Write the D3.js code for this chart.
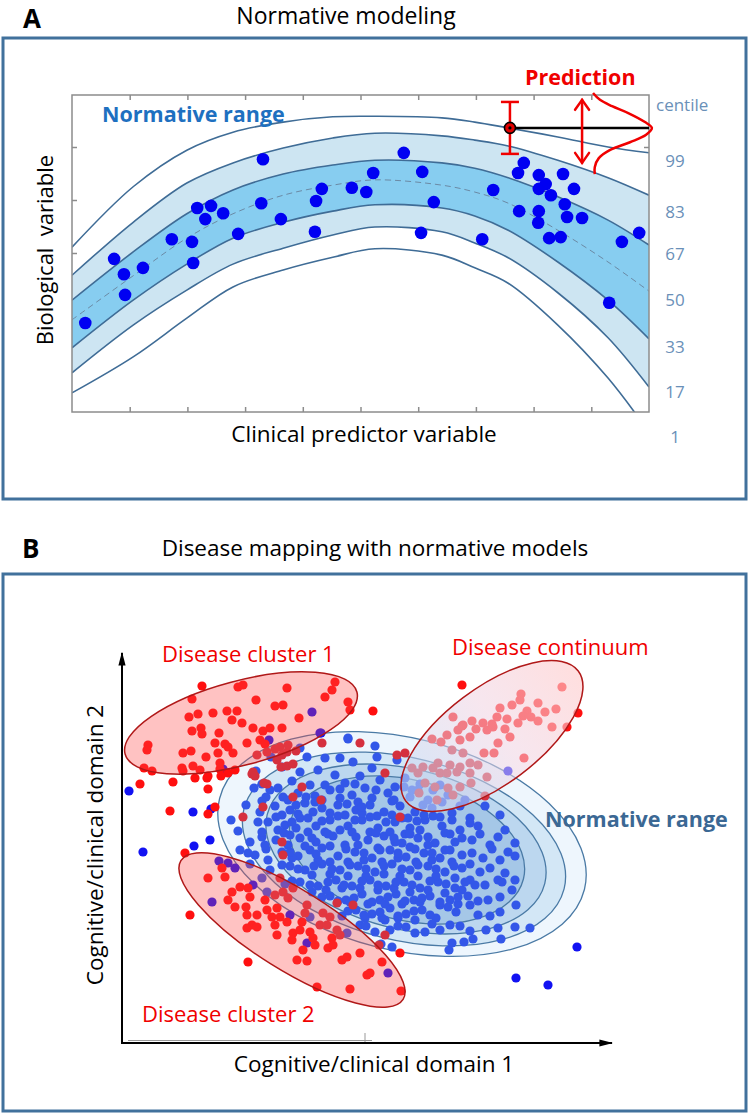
<!DOCTYPE html>
<html><head><meta charset="utf-8">
<script src="https://cdn.jsdelivr.net/npm/d3@7"></script>
<style>body{margin:0;background:#fff}svg{display:block}text{font-family:"Open Sans",Lato,sans-serif}</style>
</head><body><svg id="c" width="750" height="1115"></svg>
<script>
// ================= Panel A data =================
const curveX = [0,1.06,1.99,2.79,3.66,4.52,5.25,6.41,6.98,7.56,8.42,9.29,10];
const lineTop    = [3.11,4.25,4.94,5.28,5.47,5.57,5.58,5.55,5.47,5.36,5.19,5.00,4.89];
const lineUpper2 = [2.58,3.58,4.32,4.70,4.98,5.17,5.26,5.21,5.13,5.02,4.75,4.42,4.09];
const lineUpper1 = [2.11,3.02,3.74,4.19,4.49,4.66,4.75,4.70,4.60,4.42,4.06,3.62,3.15];
const lineMedian = [1.74,2.57,3.28,3.74,4.09,4.28,4.38,4.28,4.15,3.94,3.43,2.83,2.28];
const lineLower1 = [1.21,2.11,2.79,3.28,3.58,3.79,3.91,3.85,3.70,3.43,2.83,2.11,1.38];
const lineLower2 = [0.74,1.64,2.30,2.79,3.09,3.34,3.49,3.40,3.19,2.91,2.25,1.40,0.47];
const lineBottom = [0.36,1.04,1.77,2.36,2.68,2.92,3.08,2.96,2.72,2.43,1.64,0.64,-0.38];
const subjectsX = [3.31,5.22,4.33,4.23,4.85,5.10,2.17,2.41,2.62,2.31,3.28,3.62,2.88,4.21,1.73,2.08,0.73,0.90,1.23,0.92,2.10,0.23,
  5.75,6.07,7.83,7.73,8.09,8.51,8.21,8.09,8.30,8.70,7.30,6.27,7.75,8.09,8.54,8.58,8.84,8.08,6.05,7.11,8.27,8.47,9.53,9.83,9.31];
const subjectsY = [4.77,4.51,4.21,3.98,4.23,4.15,3.85,3.89,3.75,3.64,3.94,3.64,3.36,3.40,3.26,3.21,2.89,2.60,2.72,2.21,2.81,1.68,
  4.89,4.53,4.70,4.51,4.47,4.49,4.30,4.21,4.09,4.21,4.19,3.96,3.79,3.79,3.92,3.68,3.66,3.57,3.38,3.26,3.28,3.30,3.21,3.38,2.06];
const xTicksA = [1,2,3,4,5,6,7,8,9];
const yTicksA = [1,2,3,4,5];
const predX = 7.59, predY = 5.36, predLow = 4.87, predHigh = 5.85;
const arrowX = 8.84, arrowLow = 4.70, arrowHigh = 5.89;
const gaussX = [9.03,9.15,9.36,9.64,9.93,10.05,9.95,9.67,9.32,9.13,9.06,9.06];
const gaussY = [6.02,5.89,5.77,5.64,5.47,5.36,5.23,5.09,4.94,4.79,4.62,4.49];
const centileLabels = ["99","83","67","50","33","17","1"];
const centileLabelY = [4.74,3.77,2.98,2.11,1.23,0.38,-0.47];

// ================= Panel B data =================
const redCluster1 = [[80,357],[70,344],[116,356],[121,358],[165,355],[134,343],[153,337],[161,338],[213,361],[210,353],[203,346],[226,341],[228,333],[251,332],[177,325],[67,326],[76,329],[91,330],[105,332],[115,332],[110,323],[120,320],[70,312],[79,315],[80,309],[97,310],[131,315],[141,312],[148,315],[160,315],[200,300],[238,300],[26,298],[25,293],[61,290],[69,292],[84,286],[96,290],[103,299],[111,290],[125,300],[138,303],[143,299],[158,296],[174,292],[106,296],[93,300],[22,275],[30,272],[60,275],[71,277],[78,273],[61,272],[85,265],[73,265],[98,274],[106,270],[131,271],[86,267],[99,267],[113,273],[159,276],[165,277],[171,279],[155,283],[135,288],[145,291],[160,288],[165,291],[98,280],[130,269],[18,259],[51,261],[86,254],[93,236],[86,229],[48,232],[145,259],[141,236],[121,226],[166,298],[153,294],[340,358],
  [142,260],[133,267],[180,256],[171,246],[199,243],[160,201],[263,270],[275,288],[283,290],[278,226]];
const redCluster2 = [[63,190],[86,165],[100,175],[103,166],[68,128],[118,156],[126,155],[110,151],[106,143],[113,136],[128,146],[124,136],[125,128],[135,128],[130,118],[125,115],[135,116],[143,143],[153,148],[161,151],[166,145],[145,133],[150,126],[155,135],[158,126],[153,118],[165,121],[155,108],[171,110],[170,103],[180,121],[183,130],[178,113],[188,111],[191,105],[181,93],[193,98],[206,95],[210,105],[198,118],[205,118],[208,126],[215,113],[211,98],[218,108],[220,83],[225,86],[175,83],[185,82],[195,56],[228,54],[238,90],[245,68],[126,81],[171,155],[185,138],[201,130],[231,138],[161,188],[158,165],[263,108],[278,90],[260,81],[279,52],[248,70],[257,98],[215,140]];
const redContinuum = [[440,356],[399,349],[416,340],[434,334],[456,330],[430,316],[445,316],[405,332],[409,326],[401,327],[396,320],[416,322],[378,335],[375,326],[385,324],[371,316],[383,314],[388,306],[376,300],[361,320],[365,313],[350,322],[341,318],[336,313],[354,314],[348,306],[331,326],[325,308],[338,303],[319,301],[310,304],[330,293],[341,290],[362,290],[372,290],[402,285],[356,278],[348,280],[338,276],[328,278],[316,280],[311,275],[301,276],[290,275],[296,270],[318,270],[325,270],[335,271],[348,270],[365,266],[349,260],[303,260],[313,256],[326,255],[338,256],[363,247],[297,250],[331,248],[315,243],[340,317],[370,319],[423,331],[390,338],[398,343]];
const blueSubjects = [
  [198,310],[226,304],[185,286],[203,285],[218,285],[231,281],[253,297],[255,286],[275,283],[250,275],
  [160,276],[178,271],[196,273],[213,268],[238,267],[258,263],[283,265],[298,259],[170,262],[188,258],[223,260],[243,255],[273,256],[311,253],[134,272],
  [132,255],[148,253],[161,246],[144,246],[176,250],[193,247],[208,253],[230,248],[250,245],[266,250],[288,246],[306,243],[326,248],[343,243],[363,237],
  [153,237],[168,233],[183,240],[200,235],[216,238],[234,233],[248,238],[262,231],[278,237],[293,231],[310,235],[330,230],[348,225],[138,231],[223,228],[270,228],[378,228],
  [146,221],[163,218],[178,225],[194,217],[208,223],[226,217],[240,223],[256,215],[273,221],[288,215],[303,223],[320,217],[338,213],[356,217],[383,213],[168,208],[230,211],
  [154,203],[178,205],[194,201],[211,207],[223,198],[246,203],[262,207],[280,200],[296,205],[313,200],[333,201],[350,203],[368,198],[393,200],[200,195],
  [118,193],[133,188],[160,191],[176,187],[188,193],[216,187],[233,191],[250,185],[268,193],[284,186],[302,190],[318,185],[340,188],[361,185],[378,183],[393,187],[146,183],
  [168,177],[183,173],[200,179],[218,173],[236,177],[253,171],[270,179],[288,173],[306,177],[323,171],[340,175],[358,171],[383,170],[376,163],[393,163],[128,179],[148,173],
  [178,161],[196,157],[214,163],[230,157],[248,163],[264,157],[282,161],[298,155],[316,161],[333,155],[353,158],[390,153],[163,159],[140,165],
  [208,147],[224,143],[240,149],[258,143],[274,149],[292,143],[308,147],[328,143],[346,147],[366,143],[394,138],[190,151],
  [234,133],[250,129],[268,135],[284,129],[300,133],[326,136],[348,138],[356,128],[378,131],[220,127],[314,125],
  [253,111],[276,117],[293,110],[303,111],[328,118],[348,112],[376,115],[408,115],[263,123],[238,118],
  [259,99],[270,96],[327,93],[330,100],[342,101],[351,104],[379,104],
  [166,243],[184,246],[200,243],[218,245],[236,241],[254,253],[272,243],[290,253],[318,258],
  [160,228],[176,229],[191,231],[208,230],[240,230],[255,227],[286,225],[302,228],[318,226],
  [156,213],[174,215],[186,211],[203,211],[218,213],[248,211],[268,211],[283,209],[298,213],[328,209],
  [166,198],[183,197],[208,197],[236,198],[256,195],[273,201],[288,196],[306,198],[323,193],
  [170,185],[196,183],[208,181],[226,181],[242,183],[260,181],[276,185],[294,181],[310,183],[330,181],
  [190,168],[208,169],[226,167],[244,167],[262,169],[278,167],[296,167],[314,167],[333,165],[348,163],
  [204,153],[220,155],[238,155],[256,153],[272,155],[288,151],[306,153],[323,150],[340,153],
  [228,141],[246,139],[263,139],[280,139],[298,141],[318,138],[336,139],
  [243,125],[260,125],[276,125],[293,123],[310,119],
  [140,259],[156,255],[203,258],[218,254],[233,259],[282,256],[296,253],
  [140,242],[174,238],[193,241],[225,239],[240,236],[270,242],[301,238],[320,241],[338,237],
  [154,226],[170,221],[186,225],[200,222],[216,227],[233,223],[248,226],[264,221],[280,225],[295,222],[311,227],[330,223],[348,220],
  [140,206],[162,210],[190,205],[206,209],[234,206],[254,210],[272,205],[288,209],[306,206],[323,210],[340,205],[358,209],[376,206],
  [126,190],[144,194],[168,191],[194,189],[224,194],[242,190],[258,193],[276,190],[293,194],[310,190],[328,193],[350,190],[370,194],[386,191],
  [160,178],[176,174],[192,177],[210,174],[228,178],[244,174],[262,177],[280,174],[296,178],[314,174],[332,177],[348,179],[368,175],
  [170,162],[188,158],[206,161],[222,158],[240,162],[256,158],[274,161],[290,158],[308,162],[324,159],[343,161],[363,158],[380,161],
  [200,146],[216,142],[232,145],[250,141],[266,146],[283,142],[300,145],[318,141],[336,146],[356,142],[378,146],
  [226,132],[242,128],[258,131],[276,127],[292,132],[308,128],[334,131],[368,127],
  [244,117],[268,113],[284,116],[318,113],[338,117],[364,113],[393,116],
  [140,211],[128,201],[143,198],[136,221],[124,238],
  [190,331],[199,310],[147,303],[178,295],[149,286],[101,274],[226,305],
  [7,252],[71,231],[109,223],[116,212],[89,234],
  [97,182],[106,180],[113,175],[90,141],[131,158],[145,151],[188,126],[185,100],[225,110],[266,70],[168,128],
  [21,191],[72,197],[88,203],[386,272],[455,96],[394,65],[426,58]];
// normative ellipses (outer -> inner): centre, radii, tilt
const normCx = [280,282,284,285], normCy = [199,194,194,193];
const normRx = [188,165,143,120], normRy = [106,91,80,70];
const normTilt = 14;
const clusterEllipses = [
  {name:"cluster1", cx:119, cy:320, rx:120, ry:42, tilt:-15},
  {name:"cluster2", cx:170, cy:113, rx:131, ry:40, tilt:32}];
const continuumEllipse = {cx:370, cy:307, rx:108, ry:48, tilt:-37};

// ================= Drawing =================
const svg = d3.select("#c");
const defs = svg.append("defs");
const LETTER_FONT = '"Liberation Sans",Arial,sans-serif';

// ---------- Panel A ----------
svg.append("text").attr("x",23).attr("y",27.5).attr("font-family",LETTER_FONT).attr("font-size",26).attr("font-weight","bold").text("A");
svg.append("text").attr("x",346).attr("y",24).attr("text-anchor","middle").attr("font-size",23).text("Normative modeling");
svg.append("rect").attr("x",3).attr("y",38).attr("width",743).attr("height",461).attr("fill","none").attr("stroke","#41719c").attr("stroke-width",3);

const xA = d3.scaleLinear().domain([0,10]).range([72,649]);
const yA = d3.scaleLinear().domain([0,6]).range([412,94]);
defs.append("clipPath").attr("id","clipA").append("rect").attr("x",72).attr("y",95).attr("width",577).attr("height",317);

const axStyle = g => { g.select(".domain").remove(); g.selectAll("line").attr("stroke","#8c8c8c").attr("stroke-width",1.5); };
svg.append("g").attr("transform","translate(0,412)").call(d3.axisBottom(xA).tickValues(xTicksA).tickSize(-5).tickFormat("")).call(axStyle);
svg.append("g").attr("transform","translate(0,95)").call(d3.axisTop(xA).tickValues(xTicksA).tickSize(-5).tickFormat("")).call(axStyle);
svg.append("g").attr("transform","translate(72,0)").call(d3.axisLeft(yA).tickValues(yTicksA).tickSize(-5).tickFormat("")).call(axStyle);
svg.append("g").attr("transform","translate(649,0)").call(d3.axisRight(yA).tickValues(yTicksA).tickSize(-5).tickFormat("")).call(axStyle);

const gBand = svg.append("g").attr("clip-path","url(#clipA)");
const idx = curveX.map((d,i)=>i);
const areaBetween = (lo,hi) => d3.area().x(i=>xA(curveX[i])).y0(i=>yA(lo[i])).y1(i=>yA(hi[i])).curve(d3.curveCatmullRom);
const lineOf = arr => d3.line().x(i=>xA(curveX[i])).y(i=>yA(arr[i])).curve(d3.curveCatmullRom);
gBand.append("path").attr("d",areaBetween(lineLower2,lineUpper2)(idx)).attr("fill","#cde5f2");
gBand.append("path").attr("d",areaBetween(lineLower1,lineUpper1)(idx)).attr("fill","#87cdf0");
[lineTop,lineUpper2,lineUpper1,lineLower1,lineLower2,lineBottom].forEach(arr=>{
  gBand.append("path").attr("d",lineOf(arr)(idx)).attr("fill","none").attr("stroke","#3f6c96").attr("stroke-width",1.6);
});
gBand.append("path").attr("d",lineOf(lineMedian)(idx)).attr("fill","none").attr("stroke","#6b8aa5").attr("stroke-width",1).attr("stroke-dasharray","6,4");

svg.append("rect").attr("x",72).attr("y",95).attr("width",577).attr("height",317).attr("fill","none").attr("stroke","#8c8c8c").attr("stroke-width",1.5);

svg.append("g").selectAll("circle").data(subjectsX).join("circle")
  .attr("cx",(d)=>xA(d)).attr("cy",(d,i)=>yA(subjectsY[i])).attr("r",6.3).attr("fill","#0000f2");

// prediction
svg.append("line").attr("x1",xA(predX)).attr("x2",xA(10)).attr("y1",yA(predY)).attr("y2",yA(predY)).attr("stroke","#000").attr("stroke-width",2.5);
const eb = svg.append("g").attr("stroke","#f00000").attr("stroke-width",2.5);
eb.append("line").attr("x1",xA(predX)).attr("x2",xA(predX)).attr("y1",yA(predLow)).attr("y2",yA(predHigh));
eb.append("line").attr("x1",xA(predX)-9).attr("x2",xA(predX)+9).attr("y1",yA(predLow)).attr("y2",yA(predLow));
eb.append("line").attr("x1",xA(predX)-9).attr("x2",xA(predX)+9).attr("y1",yA(predHigh)).attr("y2",yA(predHigh));
svg.append("circle").attr("cx",xA(predX)).attr("cy",yA(predY)).attr("r",5.5).attr("fill","#e00000").attr("stroke","#000").attr("stroke-width",1.6);
svg.append("circle").attr("cx",xA(predX)).attr("cy",yA(predY)).attr("r",1.6).attr("fill","#000");
const ar = svg.append("g").attr("stroke","#f00000").attr("stroke-width",2.5).attr("fill","none").attr("stroke-linecap","round");
ar.append("line").attr("x1",xA(arrowX)).attr("x2",xA(arrowX)).attr("y1",yA(arrowLow)).attr("y2",yA(arrowHigh));
ar.append("polyline").attr("points",`${xA(arrowX)-7},${yA(arrowHigh)+10} ${xA(arrowX)},${yA(arrowHigh)} ${xA(arrowX)+7},${yA(arrowHigh)+10}`);
ar.append("polyline").attr("points",`${xA(arrowX)-7},${yA(arrowLow)-10} ${xA(arrowX)},${yA(arrowLow)} ${xA(arrowX)+7},${yA(arrowLow)-10}`);
svg.append("path").attr("d",d3.line().x(i=>xA(gaussX[i])).y(i=>yA(gaussY[i])).curve(d3.curveCatmullRom)(gaussX.map((d,i)=>i)))
  .attr("fill","none").attr("stroke","#f00000").attr("stroke-width",2.5);

svg.append("text").attr("x",102).attr("y",122).attr("font-size",21.5).attr("font-weight","bold").attr("fill","#1e70c0").text("Normative range");
svg.append("text").attr("x",525).attr("y",85).attr("font-size",21.5).attr("font-weight","bold").attr("fill","#f00000").text("Prediction");
svg.append("text").attr("x",656).attr("y",111).attr("font-size",17).attr("fill","#6a90b8").text("centile");
svg.append("g").selectAll("text").data(centileLabels).join("text")
  .attr("x",675).attr("y",(d,i)=>yA(centileLabelY[i])).attr("dy","0.36em").attr("text-anchor","middle")
  .attr("font-size",17).attr("fill","#6a90b8").text(d=>d);
svg.append("text").attr("transform","translate(53,250) rotate(-90)").attr("text-anchor","middle").attr("font-size",22).style("white-space","pre").text("Biological  variable");
svg.append("text").attr("x",364).attr("y",442).attr("text-anchor","middle").attr("font-size",22.5).text("Clinical predictor variable");

// ---------- Panel B ----------
svg.append("text").attr("x",22).attr("y",558).attr("font-family",LETTER_FONT).attr("font-size",26).attr("font-weight","bold").text("B");
svg.append("text").attr("x",375).attr("y",556).attr("text-anchor","middle").attr("font-size",22.5).text("Disease mapping with normative models");
svg.append("rect").attr("x",3).attr("y",574).attr("width",743).attr("height",537).attr("fill","none").attr("stroke","#41719c").attr("stroke-width",3);

const xB = d3.scaleLinear().domain([0,490]).range([122,612]);
const yB = d3.scaleLinear().domain([0,390]).range([1043,653]);
const k = xB(1)-xB(0);
const toPix = e => ({cx:xB(e.cx), cy:yB(e.cy), rx:e.rx*k, ry:e.ry*k, tilt:e.tilt});
function inside(px,py,e){
  const a=e.tilt*Math.PI/180, dx=px-e.cx, dy=py-e.cy;
  const u=dx*Math.cos(a)+dy*Math.sin(a), v=-dx*Math.sin(a)+dy*Math.cos(a);
  return (u*u)/(e.rx*e.rx)+(v*v)/(e.ry*e.ry)<=1;
}
const normFills = ["#eef6fd","#d3e7f6","#bcd7ef","#a5c7e7"];
const normE = normCx.map((c,i)=>toPix({cx:c,cy:normCy[i],rx:normRx[i],ry:normRy[i],tilt:normTilt}));
const gN = svg.append("g");
normE.forEach((e,i)=>{
  gN.append("ellipse").attr("cx",e.cx).attr("cy",e.cy).attr("rx",e.rx).attr("ry",e.ry)
    .attr("transform",`rotate(${e.tilt},${e.cx},${e.cy})`).attr("fill",normFills[i]).attr("stroke","#4a7aa5").attr("stroke-width",1.3);
});
const outer = normE[0];
svg.append("g").selectAll("circle").data(blueSubjects).join("circle")
  .attr("cx",d=>xB(d[0])).attr("cy",d=>yB(d[1])).attr("r",4.6)
  .attr("fill",d=>inside(xB(d[0]),yB(d[1]),outer)?"#3357e8":"#1212f2");
const redAll = redCluster1.concat(redCluster2, redContinuum);
svg.append("g").selectAll("circle").data(redAll).join("circle")
  .attr("cx",d=>xB(d[0])).attr("cy",d=>yB(d[1])).attr("r",4.6)
  .attr("fill",d=>inside(xB(d[0]),yB(d[1]),outer)?"#d5303e":"#ff0f0f");

clusterEllipses.map(toPix).forEach(e=>{
  svg.append("ellipse").attr("cx",e.cx).attr("cy",e.cy).attr("rx",e.rx).attr("ry",e.ry)
    .attr("transform",`rotate(${e.tilt},${e.cx},${e.cy})`).attr("fill","rgba(255,70,70,0.33)").attr("stroke","#b01818").attr("stroke-width",1.5);
});
const grad = defs.append("linearGradient").attr("id","contGrad").attr("x1",0).attr("x2",1).attr("y1",0).attr("y2",0);
grad.append("stop").attr("offset",0).attr("stop-color","rgb(195,218,245)").attr("stop-opacity",0.55);
grad.append("stop").attr("offset",0.55).attr("stop-color","rgb(240,210,225)").attr("stop-opacity",0.55);
grad.append("stop").attr("offset",1).attr("stop-color","rgb(255,205,205)").attr("stop-opacity",0.65);
{ const e = toPix(continuumEllipse);
  svg.append("ellipse").attr("cx",e.cx).attr("cy",e.cy).attr("rx",e.rx).attr("ry",e.ry)
    .attr("transform",`rotate(${e.tilt},${e.cx},${e.cy})`).attr("fill","url(#contGrad)").attr("stroke","#b01818").attr("stroke-width",1.5); }

// axes B
defs.append("marker").attr("id","arr").attr("viewBox","0 0 10 10").attr("refX",9).attr("refY",5)
  .attr("markerWidth",14).attr("markerHeight",9).attr("orient","auto").attr("markerUnits","userSpaceOnUse").attr("preserveAspectRatio","none")
  .append("path").attr("d","M0,1 L10,5 L0,9 Z").attr("fill","#000");
svg.append("line").attr("x1",xB(0)+6).attr("x2",xB(250)).attr("y1",yB(0)-2.5).attr("y2",yB(0)-2.5).attr("stroke","#999").attr("stroke-width",1);
svg.append("line").attr("x1",xB(243)).attr("x2",xB(243)).attr("y1",yB(0)-10).attr("y2",yB(0)).attr("stroke","#999").attr("stroke-width",1);
svg.append("line").attr("x1",xB(0)).attr("x2",xB(490)).attr("y1",yB(0)).attr("y2",yB(0)).attr("stroke","#000").attr("stroke-width",2).attr("marker-end","url(#arr)");
svg.append("line").attr("x1",xB(0)).attr("x2",xB(0)).attr("y1",yB(0)+1).attr("y2",yB(390)).attr("stroke","#000").attr("stroke-width",2).attr("marker-end","url(#arr)");

svg.append("text").attr("x",374).attr("y",1072).attr("text-anchor","middle").attr("font-size",22.5).text("Cognitive/clinical domain 1");
svg.append("text").attr("transform","translate(103,845) rotate(-90)").attr("text-anchor","middle").attr("font-size",22.5).text("Cognitive/clinical domain 2");
svg.append("text").attr("x",162).attr("y",662).attr("font-size",22).attr("fill","#f00000").text("Disease cluster 1");
svg.append("text").attr("x",452).attr("y",655).attr("font-size",22).attr("fill","#f00000").text("Disease continuum");
svg.append("text").attr("x",142).attr("y",1022).attr("font-size",22).attr("fill","#f00000").text("Disease cluster 2");
svg.append("text").attr("x",545).attr("y",827).attr("font-size",21.5).attr("font-weight","bold").attr("fill","#3b6894").text("Normative range");
</script></body></html>
